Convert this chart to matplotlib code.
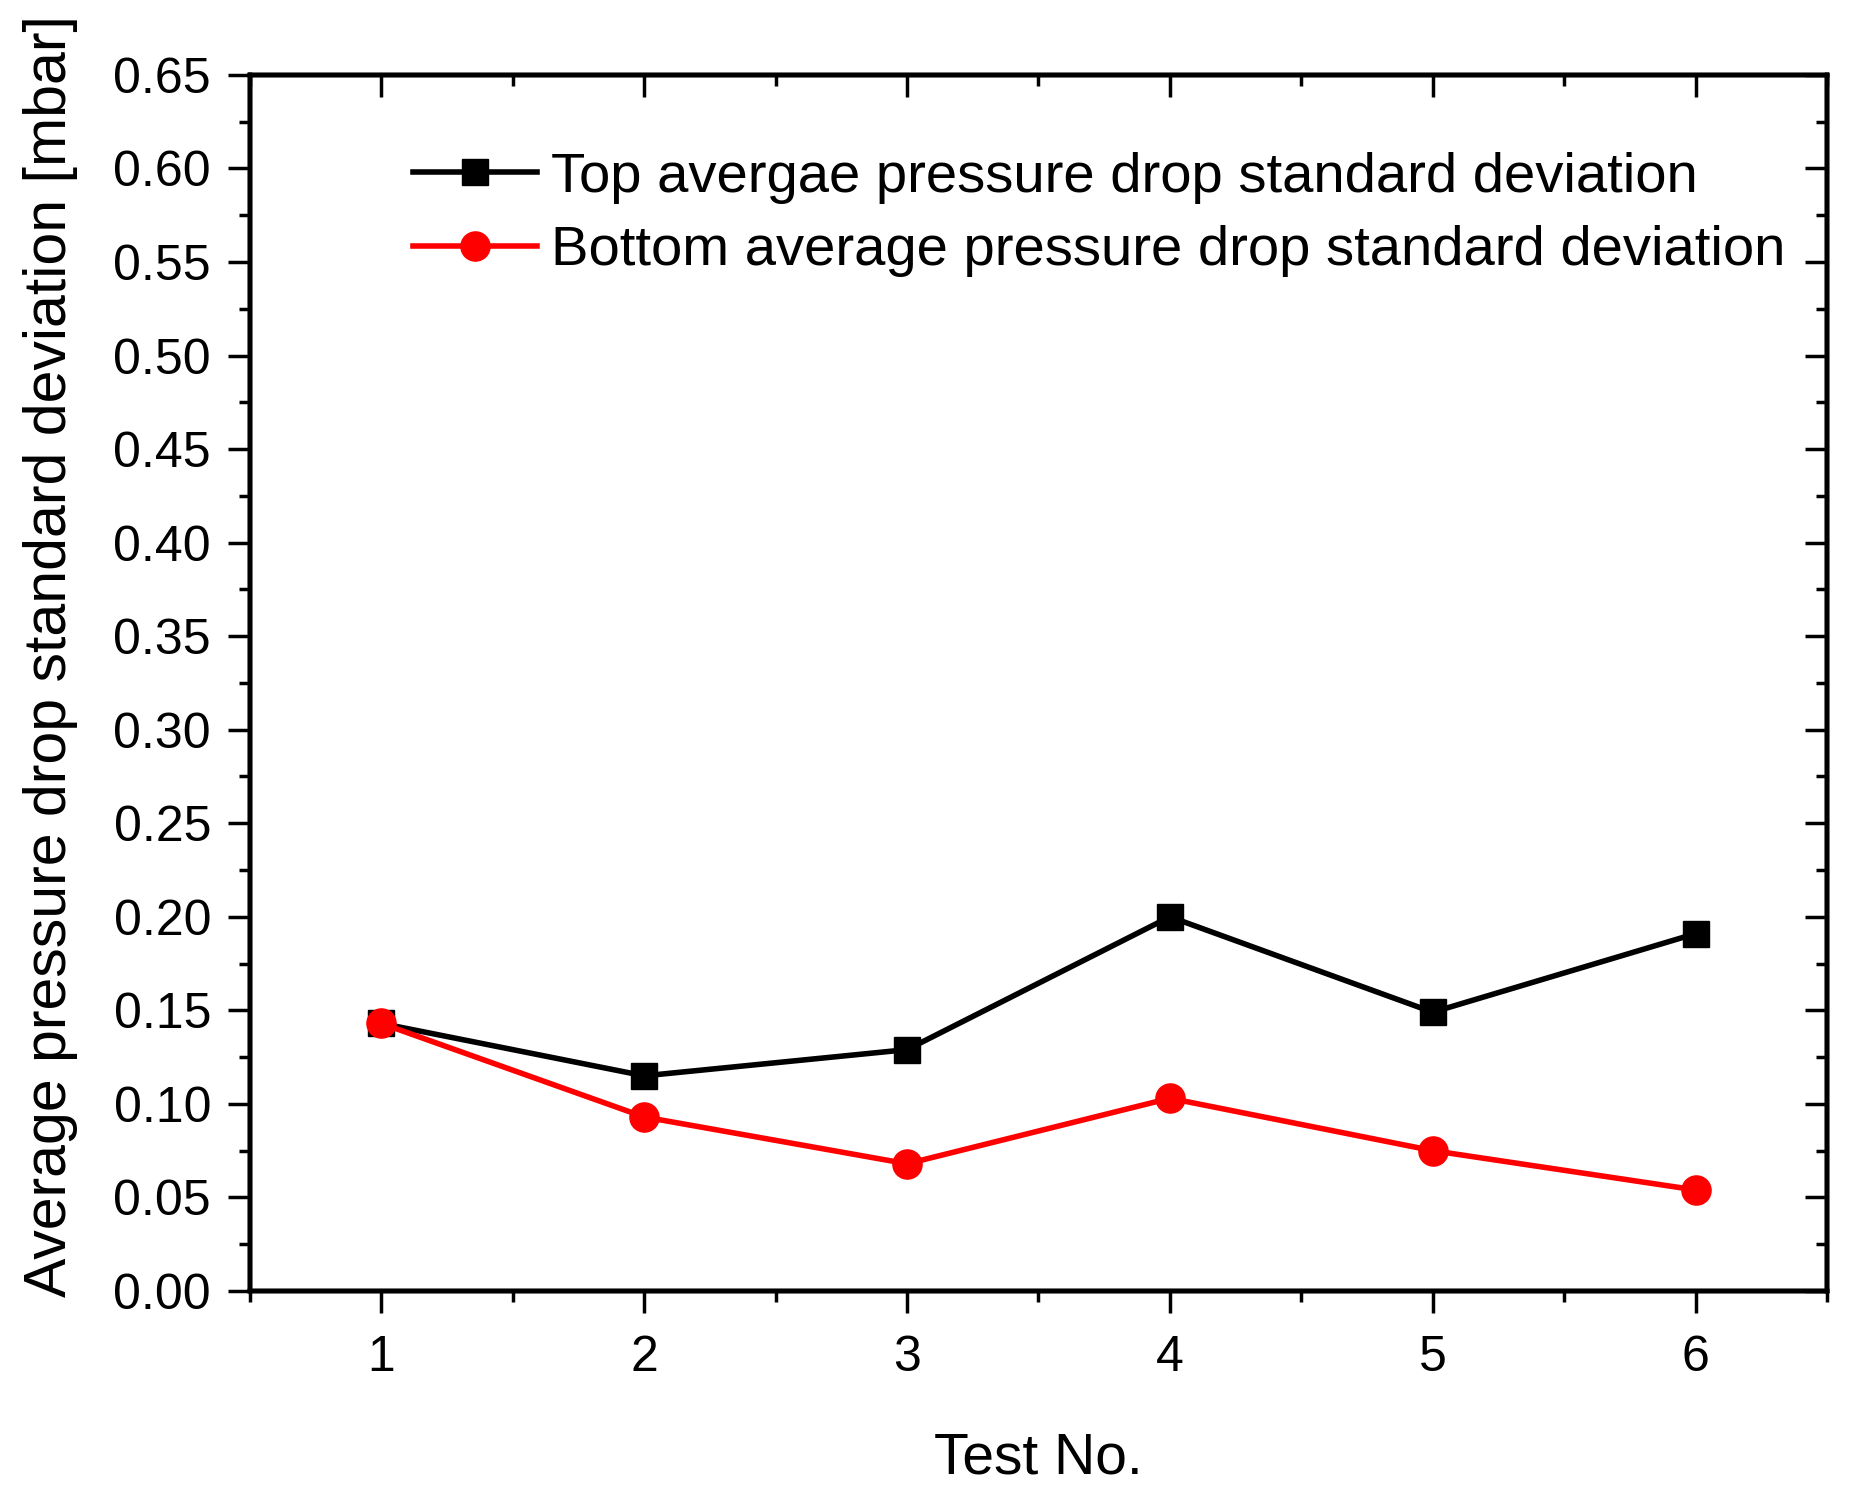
import matplotlib
matplotlib.use('Agg')
import matplotlib.pyplot as plt
from matplotlib.ticker import MultipleLocator, FormatStrFormatter

plt.rcParams['font.family'] = ['Liberation Sans', 'DejaVu Sans']

test_no = [1, 2, 3, 4, 5, 6]
top_std = [0.143, 0.115, 0.129, 0.200, 0.149, 0.191]
bottom_std = [0.143, 0.093, 0.068, 0.103, 0.075, 0.054]

fig = plt.figure(figsize=(18.71, 14.98), dpi=100)
ax = fig.add_axes([0.1336, 0.1382, 0.8429, 0.8118])

ax.plot(test_no, top_std, color='black', linewidth=4, marker='s', markersize=19,
        label='Top avergae pressure drop standard deviation')
ax.plot(test_no, bottom_std, color='red', linewidth=4, marker='o', markersize=21,
        label='Bottom average pressure drop standard deviation')

ax.set_xlim(0.5, 6.5)
ax.set_ylim(0, 0.65)
ax.xaxis.set_major_locator(MultipleLocator(1))
ax.xaxis.set_minor_locator(MultipleLocator(0.5))
ax.yaxis.set_major_locator(MultipleLocator(0.05))
ax.yaxis.set_minor_locator(MultipleLocator(0.025))
ax.yaxis.set_major_formatter(FormatStrFormatter('%.2f'))

ax.tick_params(axis='both', which='major', length=16, width=2.5, labelsize=36, direction='out')
ax.tick_params(axis='both', which='minor', length=8, width=2.5, direction='out')
ax.tick_params(axis='y', which='major', pad=12)
ax.tick_params(axis='x', which='major', pad=16)

# right and top spines get inward ticks (Origin style)
ax2 = ax.twinx()
ax2.set_ylim(ax.get_ylim())
ax2.yaxis.set_major_locator(MultipleLocator(0.05))
ax2.yaxis.set_minor_locator(MultipleLocator(0.025))
ax2.tick_params(which='major', direction='in', length=16, width=2.5, labelright=False)
ax2.tick_params(which='minor', direction='in', length=8, width=2.5)

ax3 = ax.twiny()
ax3.set_xlim(ax.get_xlim())
ax3.xaxis.set_major_locator(MultipleLocator(1))
ax3.xaxis.set_minor_locator(MultipleLocator(0.5))
ax3.tick_params(which='major', direction='in', length=16, width=2.5, labeltop=False)
ax3.tick_params(which='minor', direction='in', length=8, width=2.5)

for a in (ax, ax2, ax3):
    for s in a.spines.values():
        s.set_linewidth(3.2)

ax.set_xlabel('Test No.', fontsize=41, labelpad=36)
ax.set_ylabel('Average pressure drop standard deviation [mbar]', fontsize=42.5)
ax.yaxis.set_label_coords(-0.109, 0.522)

ax.legend(loc='upper left', bbox_to_anchor=(0.089, 0.955), frameon=False, fontsize=40.5,
          handlelength=2.2, handletextpad=0.25, labelspacing=0.38, borderaxespad=0)

fig.savefig('out.png', dpi=100)
